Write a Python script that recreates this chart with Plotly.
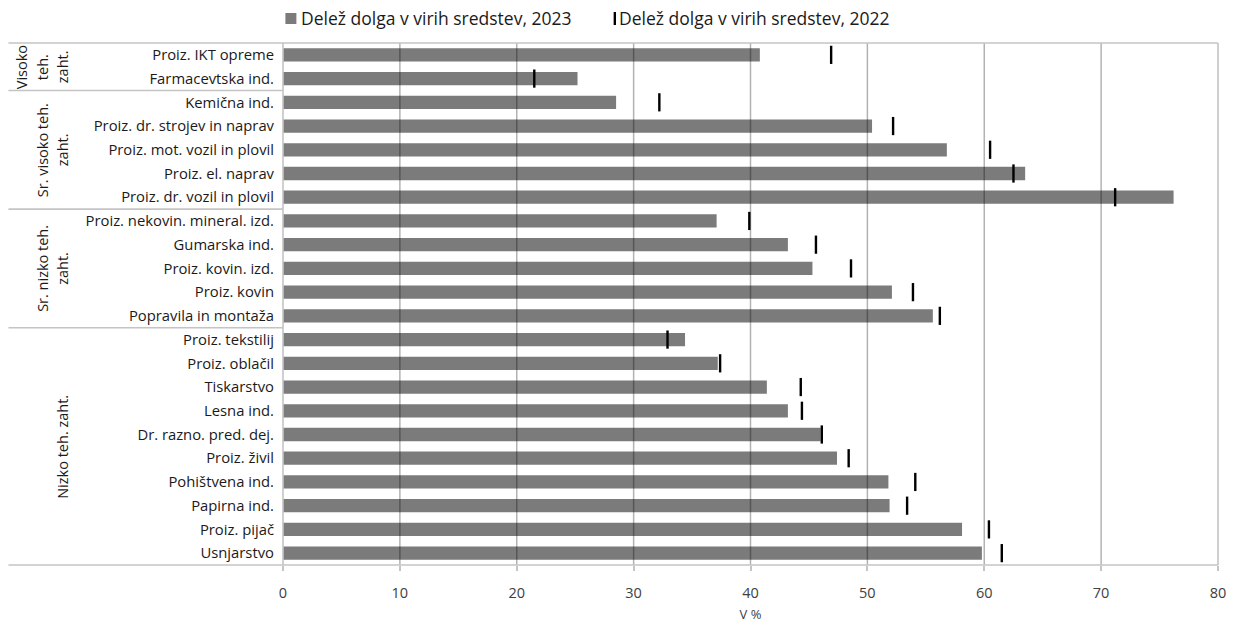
import plotly.graph_objects as go

# Industries, top to bottom
categories = [
    "Proiz. IKT opreme", "Farmacevtska ind.",
    "Kemična ind.", "Proiz. dr. strojev in naprav", "Proiz. mot. vozil in plovil",
    "Proiz. el. naprav", "Proiz. dr. vozil in plovil",
    "Proiz. nekovin. mineral. izd.", "Gumarska ind.", "Proiz. kovin. izd.",
    "Proiz. kovin", "Popravila in montaža",
    "Proiz. tekstilij", "Proiz. oblačil", "Tiskarstvo", "Lesna ind.",
    "Dr. razno. pred. dej.", "Proiz. živil", "Pohištvena ind.", "Papirna ind.",
    "Proiz. pijač", "Usnjarstvo",
]
share_2023 = [40.8, 25.2, 28.5, 50.4, 56.8, 63.5, 76.2, 37.1, 43.2, 45.3, 52.1,
              55.6, 34.4, 37.2, 41.4, 43.2, 46.0, 47.4, 51.8, 51.9, 58.1, 59.8]
share_2022 = [46.9, 21.5, 32.2, 52.2, 60.5, 62.5, 71.2, 39.9, 45.6, 48.6, 53.9,
              56.2, 32.9, 37.4, 44.3, 44.4, 46.1, 48.4, 54.1, 53.4, 60.4, 61.5]

# Technology-intensity groups: (label lines, first row, last row)
groups = [
    (["Visoko", "teh.", "zaht."], 0, 1),
    (["Sr. visoko teh.", "zaht."], 2, 6),
    (["Sr. nizko teh.", "zaht."], 7, 11),
    (["Nizko teh. zaht."], 12, 21),
]
x_ticks = [0, 10, 20, 30, 40, 50, 60, 70, 80]
legend_2023 = "Delež dolga v virih sredstev, 2023"
legend_2022 = "Delež dolga v virih sredstev, 2022"
x_title = "V %"

W, H = 1239, 624
L, R, T, B = 282.6, 1217.8, 43, 565
FONT = "Open Sans"
BAR = "#7b7b7b"
BOX = "#c4c4c4"
TXT = "#1a1a1a"


def px(xp):
    return (xp - L) / (R - L)


def py(yp):
    return (B - yp) / (B - T)


fig = go.Figure()
fig.add_trace(go.Bar(
    y=categories, x=share_2023, orientation="h", width=0.56,
    marker=dict(color=BAR, line=dict(width=0)), name=legend_2023,
    showlegend=False,
))
fig.add_trace(go.Scatter(
    y=categories, x=share_2022, mode="markers", name=legend_2022,
    marker=dict(symbol="line-ns", size=13, line=dict(color="#000000", width=2.4)),
    showlegend=False,
))

shapes = []
# vertical gridlines drawn over the bars
for v in x_ticks[1:-1]:
    shapes.append(dict(type="line", xref="x", yref="paper", x0=v, x1=v, y0=0, y1=1,
                       line=dict(color="rgba(0,0,0,0.3)", width=1.5), layer="above"))
# outer frame spanning the label column
shapes.append(dict(type="line", xref="paper", yref="paper", x0=px(8), x1=1, y0=1, y1=1,
                   line=dict(color=BOX, width=1.6)))
shapes.append(dict(type="line", xref="paper", yref="paper", x0=px(8), x1=1, y0=0, y1=0,
                   line=dict(color=BOX, width=1.6)))
shapes.append(dict(type="line", xref="paper", yref="paper", x0=1, x1=1, y0=0, y1=1,
                   line=dict(color=BOX, width=1.6)))
shapes.append(dict(type="line", xref="paper", yref="paper", x0=0, x1=0, y0=0, y1=1,
                   line=dict(color=BOX, width=1.6)))
# separators between groups
for lines, first, last in groups[1:]:
    shapes.append(dict(type="line", xref="paper", yref="y", x0=px(8), x1=0,
                       y0=first - 0.5, y1=first - 0.5, line=dict(color=BOX, width=1.6)))
# legend swatches
shapes.append(dict(type="rect", xref="paper", yref="paper",
                   x0=px(285), x1=px(296), y0=py(24), y1=py(13),
                   fillcolor=BAR, line=dict(width=0)))
shapes.append(dict(type="line", xref="paper", yref="paper",
                   x0=px(614.5), x1=px(614.5), y0=py(25), y1=py(12),
                   line=dict(color="#000000", width=2.4)))

annotations = []
line_x = [21, 42, 62]
for lines, first, last in groups:
    xs = line_x[len(line_x) - len(lines):]
    for text, xp in zip(lines, xs):
        annotations.append(dict(
            text=text, xref="paper", yref="y", x=px(xp), y=(first + last) / 2,
            textangle=-90, showarrow=False, xanchor="center", yanchor="middle",
            font=dict(family=FONT, size=14.5, color=TXT),
        ))

# legend labels
annotations.append(dict(
    text=legend_2023, xref="paper", yref="paper", x=px(299), y=py(18.5),
    xanchor="left", yanchor="middle", showarrow=False,
    font=dict(family=FONT, size=17.5, color=TXT),
))
annotations.append(dict(
    text=legend_2022, xref="paper", yref="paper", x=px(617), y=py(18.5),
    xanchor="left", yanchor="middle", showarrow=False,
    font=dict(family=FONT, size=17.5, color=TXT),
))

fig.update_layout(
    width=W, height=H,
    margin=dict(l=L, r=W - R, t=T, b=H - B, pad=0, autoexpand=False),
    paper_bgcolor="white", plot_bgcolor="white",
    shapes=shapes, annotations=annotations,
    font=dict(family=FONT, color=TXT),
    xaxis=dict(
        range=[0, 80], tickvals=x_ticks, showgrid=False, zeroline=False,
        showline=False, ticks="outside", ticklen=5, tickwidth=1.5, tickcolor=BOX,
        tickfont=dict(family=FONT, size=14.5, color="#404040"), ticklabelstandoff=10,
        automargin=False,
        title=dict(text=x_title, font=dict(family=FONT, size=13, color="#404040"),
                   standoff=8),
    ),
    yaxis=dict(
        categoryorder="array", categoryarray=categories,
        range=[len(categories) - 0.5, -0.5],
        showgrid=False, zeroline=False, showline=False, ticks="",
        tickfont=dict(family=FONT, size=14.8, color=TXT),
        ticklabelstandoff=8, automargin=False,
    ),
)

fig.write_html("out.html")
